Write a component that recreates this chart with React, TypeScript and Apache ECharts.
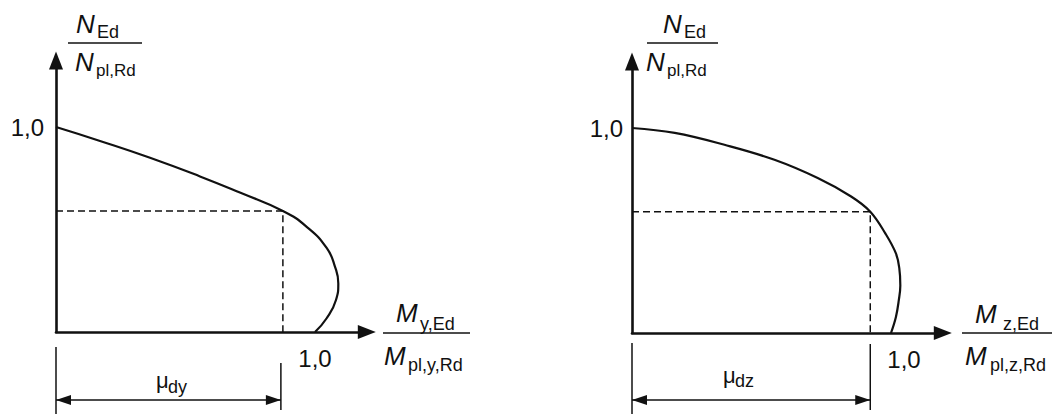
import React, { useEffect, useRef } from "react";
import * as echarts from "echarts";

// Interaction curve N/Npl,Rd vs My/Mpl,y,Rd (left) and Mz/Mpl,z,Rd (right)
const leftCurveX = [0, 0.17, 0.363, 0.556, 0.71, 0.876, 0.969, 1.045, 1.077, 1.09, 1.081, 1.045, 1.0];
const leftCurveY = [1.0, 0.932, 0.85, 0.759, 0.68, 0.59, 0.512, 0.41, 0.319, 0.237, 0.156, 0.067, 0];
const rightCurveX = [0, 0.165, 0.357, 0.55, 0.717, 0.846, 0.92, 0.978, 1.019, 1.032, 1.036, 1.03, 1.019, 1.0];
const rightCurveY = [1.0, 0.976, 0.918, 0.845, 0.756, 0.666, 0.592, 0.486, 0.388, 0.316, 0.232, 0.159, 0.078, 0];
// design point (mu_d, N ratio)
const leftDesign = [0.876, 0.59];
const rightDesign = [0.92, 0.592];
const tickLabel = "1,0";
const tickValue = 1;
const axisMaxX = 1.2;
const axisMaxY = 1.325;
// label texts
const yNameNum = ["N", "Ed"];
const yNameDen = ["N", "pl,Rd"];
const xNameNumLeft = ["M", "y,Ed"];
const xNameDenLeft = ["M", "pl,y,Rd"];
const xNameNumRight = ["M", "z,Ed"];
const xNameDenRight = ["M", "pl,z,Rd"];
const muLeft = ["μ", "dy"];
const muRight = ["μ", "dz"];

const FONT = "'Liberation Sans', Arial, Helvetica, sans-serif";
const INK = "#111";

function pairs(xs: number[], ys: number[]) {
  return xs.map((x, i) => [x, ys[i]]);
}

function txt(text: string, x: number, y: number, size: number, italic = false) {
  return {
    type: "text",
    x,
    y,
    silent: true,
    style: {
      text,
      fill: INK,
      fontSize: size,
      fontFamily: FONT,
      fontStyle: italic ? "italic" : "normal",
      align: "left",
      verticalAlign: "middle",
    },
  };
}

function hline(x1: number, x2: number, y: number, w = 1.5) {
  return { type: "line", silent: true, shape: { x1, y1: y, x2, y2: y }, style: { stroke: INK, lineWidth: w } };
}
function vline(x: number, y1: number, y2: number, w = 1.5) {
  return { type: "line", silent: true, shape: { x1: x, y1, x2: x, y2 }, style: { stroke: INK, lineWidth: w } };
}
function head(xTip: number, y: number, dir: number) {
  const L = 15;
  const h = 5;
  return {
    type: "polygon",
    silent: true,
    shape: { points: [[xTip, y], [xTip - dir * L, y - h], [xTip - dir * L, y + h]] },
    style: { fill: INK },
  };
}

export default function App() {
  const ref = useRef<HTMLDivElement>(null);
  useEffect(() => {
    const chart = echarts.init(ref.current!, null, { renderer: "svg" });
    const sx = 259;
    const sy = 205;
    const gridW = axisMaxX * sx;
    const gridH = axisMaxY * sy;
    const axisLine = {
      show: true,
      onZero: false,
      symbol: ["none", "triangle"],
      symbolSize: [14, 18],
      lineStyle: { color: INK, width: 2.6 },
    };
    const xAxisBase = (gridIndex: number, pad: number[]) => ({
      gridIndex,
      type: "value",
      min: 0,
      max: axisMaxX,
      interval: tickValue,
      axisLine,
      axisTick: { show: false },
      splitLine: { show: false },
      axisLabel: {
        formatter: (v: number) => (v === tickValue ? tickLabel : ""),
        fontSize: 24,
        color: INK,
        fontFamily: FONT,
        margin: 14,
        padding: pad,
      },
    });
    const yAxisBase = (gridIndex: number, margin: number) => ({
      gridIndex,
      type: "value",
      min: 0,
      max: axisMaxY,
      interval: tickValue,
      axisLine,
      axisTick: { show: false },
      splitLine: { show: false },
      axisLabel: {
        formatter: (v: number) => (v === tickValue ? tickLabel : ""),
        fontSize: 24,
        color: INK,
        fontFamily: FONT,
        margin,
      },
    });
    const curveStyle = { color: INK, width: 2.2 };
    const dashStyle = { color: INK, width: 1.5, type: [7, 4] };
    chart.setOption({
      animation: false,
      backgroundColor: "#fff",
      grid: [
        { left: 56, top: 332 - gridH, width: gridW, height: gridH },
        { left: 632, top: 333 - gridH, width: gridW, height: gridH },
      ],
      xAxis: [xAxisBase(0, [0, 0, 0, 0]), xAxisBase(1, [0, 0, 0, 26])],
      yAxis: [yAxisBase(0, 12), yAxisBase(1, 9)],
      series: [
        {
          type: "line",
          xAxisIndex: 0,
          yAxisIndex: 0,
          data: pairs(leftCurveX, leftCurveY),
          smooth: 0.5,
          symbol: "none",
          lineStyle: curveStyle,
          silent: true,
        },
        {
          type: "line",
          xAxisIndex: 0,
          yAxisIndex: 0,
          data: [[0, leftDesign[1]], leftDesign, [leftDesign[0], 0]],
          symbol: "none",
          lineStyle: dashStyle,
          silent: true,
        },
        {
          type: "line",
          xAxisIndex: 1,
          yAxisIndex: 1,
          data: pairs(rightCurveX, rightCurveY),
          smooth: 0.4,
          symbol: "none",
          lineStyle: curveStyle,
          silent: true,
        },
        {
          type: "line",
          xAxisIndex: 1,
          yAxisIndex: 1,
          data: [[0, rightDesign[1]], rightDesign, [rightDesign[0], 0]],
          symbol: "none",
          lineStyle: dashStyle,
          silent: true,
        },
      ],
    });

    const oL = chart.convertToPixel({ gridIndex: 0 }, [0, 0]) as number[];
    const dL = chart.convertToPixel({ gridIndex: 0 }, [leftDesign[0], 0]) as number[];
    const oR = chart.convertToPixel({ gridIndex: 1 }, [0, 0]) as number[];
    const dR = chart.convertToPixel({ gridIndex: 1 }, [rightDesign[0], 0]) as number[];
    const dimY = 400;
    const SUB = 18;
    const MAIN = 26;

    const graphic: any[] = [
      // left y name
      txt(yNameNum[0], 76, 24, MAIN, true),
      txt(yNameNum[1], 97, 32, SUB),
      hline(68, 142, 43),
      txt(yNameDen[0], 75, 62, MAIN, true),
      txt(yNameDen[1], 96, 70, SUB - 1),
      // right y name
      txt(yNameNum[0], 663, 24, MAIN, true),
      txt(yNameNum[1], 684, 32, SUB),
      hline(647, 718, 43),
      txt(yNameDen[0], 646, 62, MAIN, true),
      txt(yNameDen[1], 667, 70, SUB - 1),
      // left x name
      txt(xNameNumLeft[0], 396, 313, MAIN, true),
      txt(xNameNumLeft[1], 420, 324, SUB),
      hline(383, 470, 333),
      txt(xNameDenLeft[0], 384, 356, MAIN, true),
      txt(xNameDenLeft[1], 408, 365, SUB),
      // right x name
      txt(xNameNumRight[0], 975, 314, MAIN, true),
      txt(xNameNumRight[1], 1003, 324, SUB),
      hline(962, 1052, 333),
      txt(xNameDenRight[0], 965, 356, MAIN, true),
      txt(xNameDenRight[1], 990, 365, SUB),
      // left dimension
      vline(oL[0], 347, 414),
      vline(dL[0] - 2, 363, 410),
      hline(oL[0], dL[0] - 2, dimY),
      head(oL[0], dimY, -1),
      head(dL[0] - 2, dimY, 1),
      txt(muLeft[0], 156, 380, 22),
      txt(muLeft[1], 168, 387, SUB),
      // right dimension
      vline(oR[0], 343, 414),
      vline(dR[0], 344, 410),
      hline(oR[0], dR[0], dimY),
      head(oR[0], dimY, -1),
      head(dR[0], dimY, 1),
      txt(muRight[0], 723, 375, 22),
      txt(muRight[1], 735, 381, SUB),
    ];
    chart.setOption({ graphic });
    return () => chart.dispose();
  }, []);
  return (
    <div
      ref={ref}
      style={{ position: "absolute", left: 0, top: 0, width: 1053, height: 414, background: "#fff" }}
    />
  );
}
